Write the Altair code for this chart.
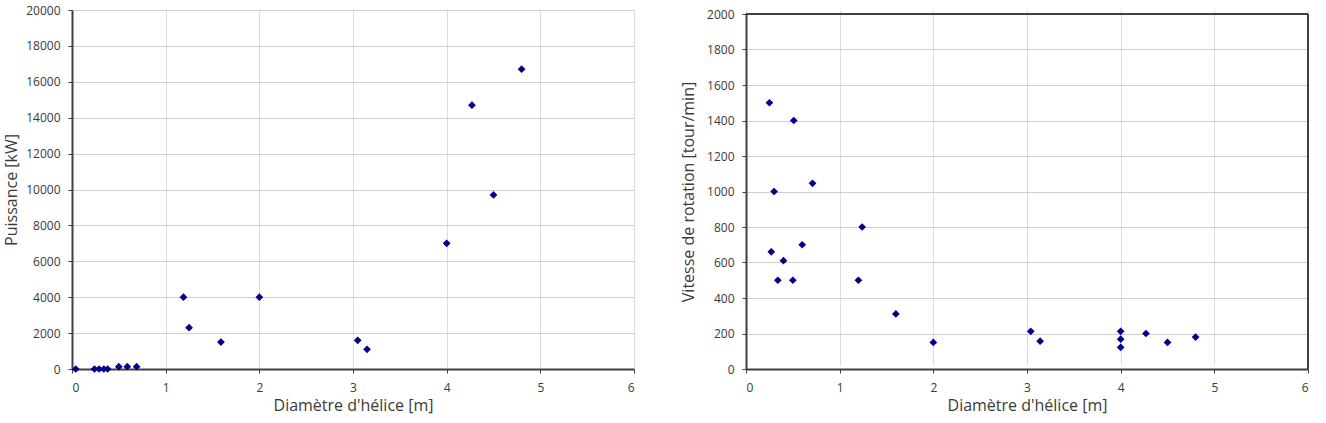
import altair as alt
import pandas as pd

# Left panel: diameter [m] vs power [kW]
d_left = [0.04, 0.24, 0.29, 0.34, 0.38, 0.50, 0.59, 0.69, 1.19, 1.25, 1.59, 2.0,
          3.05, 3.15, 4.0, 4.27, 4.5, 4.8]
p_left = [0, 0, 0, 0, 0, 130, 130, 130, 4000, 2300, 1500, 4000,
          1600, 1100, 7000, 14700, 9700, 16700]

# Right panel: diameter [m] vs rotation speed [tour/min]
d_right = [0.25, 0.51, 0.71, 0.30, 1.24, 0.60, 0.27, 0.40, 0.34, 0.50, 1.20,
           1.60, 2.0, 3.04, 3.14, 4.0, 4.0, 4.0, 4.27, 4.5, 4.8]
v_right = [1500, 1400, 1046, 1000, 800, 700, 660, 610, 500, 500, 500,
           310, 150, 212, 157, 212, 168, 122, 200, 150, 180]

xticks = [0, 1, 2, 3, 4, 5, 6]
left_yticks = list(range(0, 20001, 2000))
right_yticks = list(range(0, 2001, 200))

FONT = "Open Sans"
MARK = "#00008b"
TXT = "#3a3a3a"
FRAME = "#404040"

left_df = pd.DataFrame({"d": d_left, "p": p_left})
right_df = pd.DataFrame({"d": d_right, "v": v_right})

def axis_common(title_size, **kw):
    return alt.Axis(format="d", domainColor=FRAME, domainWidth=2,
                    tickColor=FRAME, tickSize=4, labelOverlap=False,
                    labelFont=FONT, titleFont=FONT, labelFontSize=12,
                    titleFontSize=title_size, labelColor=TXT, titleColor=TXT,
                    titleFontWeight=400, **kw)

X_TITLE = "Diamètre d'hélice [m]"
X_SCALE = alt.Scale(domain=[0, 6], nice=False, zero=True)
X_AXIS = axis_common(16, values=xticks, gridColor="#dcdcdc",
                     labelPadding=9, titlePadding=4)

left = alt.Chart(left_df).mark_point(shape="diamond", filled=True, size=60,
                                     color=MARK, opacity=1).encode(
    x=alt.X("d:Q", title=X_TITLE, scale=X_SCALE, axis=X_AXIS),
    y=alt.Y("p:Q", title="Puissance [kW]",
            scale=alt.Scale(domain=[0, 20000], nice=False),
            axis=axis_common(16, values=left_yticks,
                             gridColor="#cfcfcf", labelPadding=8,
                             titlePadding=6)),
).properties(width=562, height=359)

Y_TITLE_R = "Vitesse de rotation [tour/min]"
Y_SCALE_R = alt.Scale(domain=[0, 2000], nice=False, range=[359, 4])
Y_AXIS_R = axis_common(16, values=right_yticks, gridColor="#cfcfcf",
                       labelPadding=8, titlePadding=10)

rbase = alt.Chart(right_df)
rpts = rbase.mark_point(shape="diamond", filled=True, size=60,
                        color=MARK, opacity=1).encode(
    x=alt.X("d:Q", title=X_TITLE, scale=X_SCALE, axis=X_AXIS),
    y=alt.Y("v:Q", title=Y_TITLE_R, scale=Y_SCALE_R, axis=Y_AXIS_R),
)
rtop = rbase.mark_rule(color=FRAME, strokeWidth=1).encode(
    y=alt.YDatum(2000, type="quantitative", title=Y_TITLE_R,
                 scale=Y_SCALE_R, axis=Y_AXIS_R))
rright = rbase.mark_rule(color=FRAME, strokeWidth=1).encode(
    x=alt.XDatum(6, type="quantitative", title=X_TITLE, scale=X_SCALE,
                 axis=X_AXIS),
    y=alt.YDatum(0, type="quantitative", title=Y_TITLE_R, scale=Y_SCALE_R,
                 axis=Y_AXIS_R),
    y2=alt.Y2Datum(2000))

right = alt.layer(rpts, rtop, rright).properties(
    width=562, height=359, view=alt.ViewBackground(stroke="transparent"))

chart = alt.hconcat(left, right, spacing=45).properties(
    padding={"left": 3, "top": 3, "right": 5, "bottom": 2}
).configure_view(stroke=FRAME, strokeWidth=1).configure(background="white")

chart.save("out.html", embed_options={"renderer": "svg", "actions": False})
